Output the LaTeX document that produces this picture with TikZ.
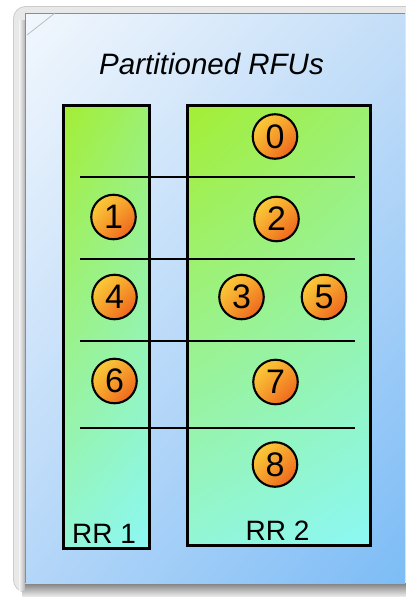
\documentclass[tikz,border=0pt]{standalone}
\usepackage{fontspec}
\setmainfont{Liberation Sans}
\usetikzlibrary{shadings}
\definecolor{panUL}{HTML}{F2F7FD}
\definecolor{panUR}{HTML}{C4DEF8}
\definecolor{panLL}{HTML}{B4D6F8}
\definecolor{panLR}{HTML}{7CBCF6}
\definecolor{boxUL}{HTML}{A4EE34}
\definecolor{boxUR}{HTML}{9CF070}
\definecolor{boxLL}{HTML}{92F6D6}
\definecolor{boxLR}{HTML}{8CF8F4}
\definecolor{ballUL}{HTML}{FCDC3C}
\definecolor{ballMid}{HTML}{F6A02C}
\definecolor{ballLR}{HTML}{EC5018}
\tikzset{
  rrbox/.style={draw=black, line width=2.6pt, inner sep=0pt, outer sep=0pt,
    upper left=boxUL, upper right=boxUR, lower left=boxLL, lower right=boxLR},
  ball/.style={circle, draw=black, line width=2.1pt, minimum size=44.5pt, inner sep=0pt,
    upper left=ballUL, upper right=ballMid, lower left=ballMid, lower right=ballLR,
    font=\fontsize{34}{34}\selectfont},
  divider/.style={draw=black, line width=1.4pt},
  label/.style={font=\fontsize{28}{28}\selectfont, anchor=base, inner sep=0pt},
}
\begin{document}
\begin{tikzpicture}[x=1pt,y=-1pt]
\useasboundingbox (0,0) rectangle (405,597);
\fill[white] (0,0) rectangle (405,597);
% outer frame with rounded top-left corner
\filldraw[fill=black!9, draw=black!20, line width=0.8pt, rounded corners=12pt]
  (13.5,592) -- (13.5,6.5) -- (440,6.5) -- (440,592) -- cycle;
% shadow beneath the panel
\shade[top color=black!50, bottom color=black!6] (22,583) rectangle (410,597);
\shade[left color=black!4, right color=black!30] (19,20) rectangle (25,590);
% blue panel
\shade[upper left=panUL, upper right=panUR, lower left=panLL, lower right=panLR]
  (25,13) rectangle (405,583);
\draw[black!45, line width=0.8pt] (25,583) -- (25,13) -- (405,13);
\draw[black!28, line width=0.7pt] (27,35) -- (55,13);
% title
\node[font=\fontsize{29.5}{29.5}\selectfont\itshape, anchor=base, inner sep=0pt] (title) at (211.5,74) {Partitioned RFUs};
% boxes
\node[rrbox, minimum width=86pt, minimum height=443pt] (rr1) at (106.5,327) {};
\node[rrbox, minimum width=183pt, minimum height=440pt] (rr2) at (279,325.5) {};
% dividers
\coordinate (d1a) at (80,177);  \coordinate (d1b) at (355,177);
\coordinate (d2a) at (80,259);  \coordinate (d2b) at (355,259);
\coordinate (d3a) at (80,341);  \coordinate (d3b) at (355,341);
\coordinate (d4a) at (80,428);  \coordinate (d4b) at (355,428);
\draw[divider] (d1a) -- (d1b);
\draw[divider] (d2a) -- (d2b);
\draw[divider] (d3a) -- (d3b);
\draw[divider] (d4a) -- (d4b);
% numbered balls
\node[ball] (c0) at (275,136.5) {0};
\node[ball] (c1) at (113.5,217) {1};
\node[ball] (c2) at (276.5,219) {2};
\node[ball] (c4) at (114.5,297) {4};
\node[ball] (c3) at (241.5,297) {3};
\node[ball] (c5) at (324,297) {5};
\node[ball] (c6) at (114.5,381) {6};
\node[ball] (c7) at (275.5,382) {7};
\node[ball] (c8) at (275,464.5) {8};
% labels
\node[label] (l1) at (104,543) {RR 1};
\node[label] (l2) at (277.5,540) {RR 2};
\end{tikzpicture}
\end{document}
